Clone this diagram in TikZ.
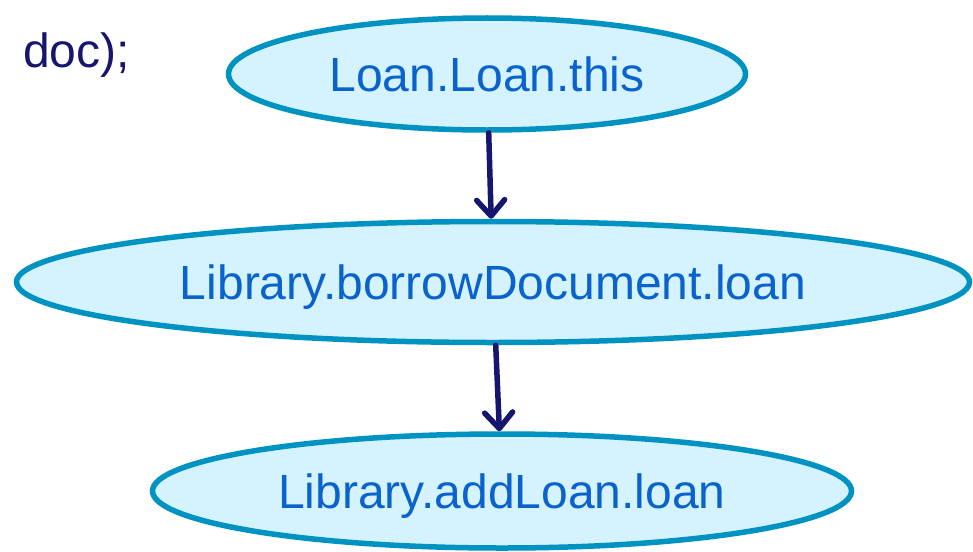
\documentclass[tikz,border=0pt]{standalone}
\usepackage{fontspec}
\setmainfont{Liberation Sans}
\usepackage{tikz}
\usetikzlibrary{positioning,arrows.meta,shapes.geometric}

\definecolor{edgeblue}{HTML}{0093C2}
\definecolor{fillblue}{HTML}{D4F3FF}
\definecolor{labelblue}{HTML}{0A62CC}
\definecolor{navy}{HTML}{16166E}

\begin{document}
\begin{tikzpicture}[x=1pt, y=1pt, >={Straight Barb[round,length=16pt,width=28pt]},
    node distance=208pt, on grid,
    var/.style={ellipse, draw=edgeblue, fill=fillblue, line width=5.5pt, inner sep=0pt,
      text depth=0pt, text=labelblue, font=\fontsize{48}{56}\selectfont},
    flow/.style={->, draw=navy, line width=5.5pt, line cap=round}]
    \useasboundingbox (0,0) rectangle (973,-551);

    \node[anchor=base west, inner sep=0pt, text=navy, font=\fontsize{48}{56}\selectfont] (code) at (23,-67) {doc);};

    \node[var, minimum width=517pt, minimum height=112pt] (q0) at (487,-74) {Loan.Loan.this};
    \node[var, minimum width=953pt, minimum height=121pt, below=208pt of q0, xshift=6pt] (q1) {Library.borrowDocument.loan};
    \node[var, minimum width=699pt, minimum height=114pt, below=209pt of q1, xshift=9pt] (q2) {Library.addLoan.loan};

    \path[flow]
      (q0) edge (q1)
      (q1) edge (q2);
\end{tikzpicture}
\end{document}
